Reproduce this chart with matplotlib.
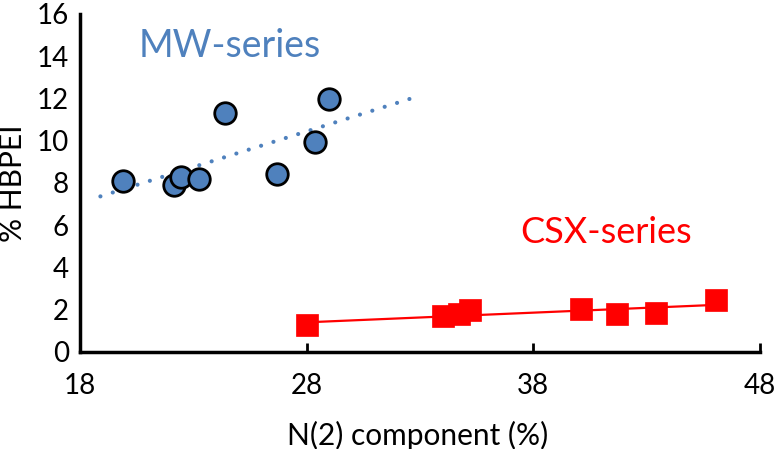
import numpy as np
import matplotlib.pyplot as plt

plt.rcParams['font.family'] = ['Lato', 'DejaVu Sans']

# MW-series (blue circles)
mw_x = [19.9, 22.15, 22.45, 23.25, 24.4, 26.7, 28.35, 29.0]
mw_y = [8.1, 7.9, 8.3, 8.2, 11.3, 8.4, 9.95, 11.95]

# CSX-series (red squares)
csx_x = [28.0, 34.0, 34.7, 35.2, 40.1, 41.7, 43.4, 46.05]
csx_y = [1.25, 1.68, 1.8, 1.96, 2.02, 1.78, 1.82, 2.45]

blue = '#4F81BD'
red = '#FF0000'

fig = plt.figure(figsize=(7.78, 4.49), dpi=100)
ax = fig.add_axes([80 / 778, 1 - 351.7 / 449, 680 / 778, 337.7 / 449])

# linear trendlines (like the spreadsheet ones)
k1, b1 = np.polyfit(mw_x, mw_y, 1)
tx1 = np.array([min(mw_x) - 1.0, max(mw_x) + 3.9])
ax.plot(tx1, k1 * tx1 + b1, color=blue, lw=3, linestyle=(0, (0.01, 3.1)),
        dash_capstyle='round', zorder=2)

k2, b2 = np.polyfit(csx_x, csx_y, 1)
tx2 = np.array([min(csx_x), max(csx_x)])
ax.plot(tx2, k2 * tx2 + b2, color=red, lw=1.6, zorder=2)

ax.plot(mw_x, mw_y, 'o', ms=15.5, mfc=blue, mec='black', mew=2, zorder=3)
ax.plot(csx_x, csx_y, 's', ms=16, mfc=red, mec=red, mew=0.5, zorder=3)

ax.text(20.57, 13.94, 'MW-series', color=blue, fontsize=27, ha='left', va='baseline')
ax.text(37.41, 5.15, 'CSX-series', color=red, fontsize=26, ha='left', va='baseline')

ax.set_xlim(18, 48)
ax.set_ylim(0, 16)
ax.set_xticks([18, 28, 38, 48])
ax.set_yticks(range(0, 17, 2))

for s in ['top', 'right']:
    ax.spines[s].set_visible(False)
for s in ['left', 'bottom']:
    ax.spines[s].set_linewidth(2.5)
ax.tick_params(axis='x', direction='in', length=6.5, width=2, labelsize=20, pad=15)
ax.tick_params(axis='y', length=0, labelsize=20, pad=8)

ax.set_xlabel('N(2) component (%)', fontsize=21.5, va='baseline')
ax.xaxis.set_label_coords(0.496, -0.276)
ax.set_ylabel('% HBPEI', fontsize=21.5, va='center')
ax.yaxis.set_label_coords(-0.0985, 0.5)

fig.savefig('out.png', dpi=100)
